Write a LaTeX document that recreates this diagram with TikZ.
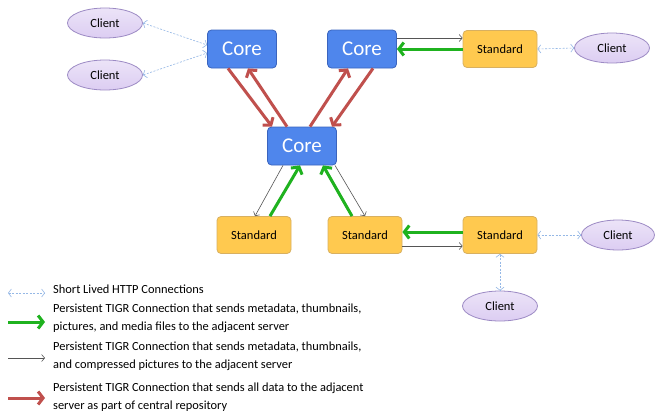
\documentclass[tikz,border=0pt]{standalone}
\usepackage{fontspec}
\setmainfont{Carlito}
\definecolor{tgcore}{HTML}{4F86EC}
\definecolor{tgcoreline}{HTML}{3A64BE}
\definecolor{tgstd}{HTML}{FFC94F}
\definecolor{tgstdline}{HTML}{D8B060}
\definecolor{tgclient}{HTML}{DCCDF2}
\definecolor{tgclientline}{HTML}{9C8AC4}
\definecolor{tgred}{HTML}{C0504D}
\definecolor{tggreen}{HTML}{1FB21F}
\definecolor{tggray}{HTML}{555555}
\definecolor{tghttp}{HTML}{95B8E6}
\usepackage{tikz}
\usetikzlibrary{arrows.meta, positioning, shapes.geometric}
\usepackage{xcolor}

\begin{document}
\begin{tikzpicture}[x=1pt, y=-1pt,
  core/.style={rounded corners=4pt, minimum width=69pt, minimum height=38pt,
               draw=tgcoreline, fill=tgcore, line width=0.8pt, text=white,
               font=\fontsize{21}{24}\selectfont, inner sep=0pt},
  std/.style={rounded corners=4pt, minimum width=74pt, minimum height=37pt,
              draw=tgstdline, fill=tgstd, line width=0.8pt,
              font=\fontsize{12.5}{14}\selectfont, inner sep=0pt},
  client/.style={ellipse, minimum width=75pt, minimum height=30pt,
                 draw=tgclientline, top color=tgclient!55, bottom color=tgclient,
                 line width=0.8pt, font=\fontsize{12.5}{14}\selectfont, inner sep=0pt},
  redarr/.style={draw=tgred, line width=3pt, -{Straight Barb[length=5pt,width=13pt]}},
  greenarr/.style={draw=tggreen, line width=3pt, -{Straight Barb[length=5pt,width=13pt]}},
  grayarr/.style={draw=tggray, line width=0.6pt, -{Straight Barb[length=3pt,width=7pt]}},
  httparr/.style={draw=tghttp, line width=0.6pt, dash pattern=on 2pt off 1.5pt,
                  {Straight Barb[length=3pt,width=8pt]}-{Straight Barb[length=3pt,width=8pt]}},
  legend/.style={anchor=west, align=left, inner sep=0pt,
                 font=\fontsize{12.4}{18}\selectfont},
]
  \useasboundingbox[fill=white] (0,0) rectangle (655,413);

  \node[client] (cl1) at (105,23) {Client};
  \node[client] (cl2) at (105,75) {Client};
  \node[core] (core1) at (242,49) {Core};
  \node[core] (core2) at (362,49) {Core};
  \node[std] (stdtop) at (500,49) {Standard};
  \node[client] (cl3) at (612,48) {Client};
  \node[core] (hub) at (302,146) {Core};
  \node[std] (stdl) at (254,235) {Standard};
  \node[std] (stdm) at (365,235) {Standard};
  \node[std] (stdr) at (500,235) {Standard};
  \node[client, minimum width=73pt] (cl4) at (618,235) {Client};
  \node[client] (cl5) at (500,306) {Client};

  \draw[httparr] (cl1.east) -- ([yshift=4pt]core1.west);
  \draw[httparr] (cl2.east) -- ([yshift=-4pt]core1.west);
  \draw[httparr] (stdtop.east) -- (cl3.west);
  \draw[httparr] (stdr.east) -- (cl4.west);
  \draw[httparr] (stdr.south) -- (cl5.north);

  \draw[redarr] ([xshift=-14pt]core1.south) -- ([xshift=-30pt]hub.north);
  \draw[redarr] ([xshift=-15pt]hub.north) -- ([xshift=6pt]core1.south);
  \draw[redarr] ([xshift=8pt]hub.north) -- ([xshift=-14pt]core2.south);
  \draw[redarr] ([xshift=11pt]core2.south) -- ([xshift=30pt]hub.north);

  \draw[grayarr] ([yshift=11pt]core2.east) -- ([yshift=11pt]stdtop.west);
  \draw[greenarr] (stdtop.west) -- (core2.east);

  \draw[grayarr] ([xshift=-19pt]hub.south) -- ([xshift=1pt]stdl.north);
  \draw[greenarr] ([xshift=16pt]stdl.north) -- ([xshift=-2pt]hub.south);
  \draw[greenarr] ([xshift=-13pt]stdm.north) -- ([xshift=21pt]hub.south);
  \draw[grayarr] ([xshift=33pt]hub.south) -- (stdm.north);

  \draw[greenarr] ([yshift=3pt]stdr.west) -- ([yshift=3pt]stdm.east);
  \draw[grayarr] ([yshift=-11pt]stdm.east) -- ([yshift=-11pt]stdr.west);

  \node[legend] (lg1) at (53,289) {Short Lived HTTP Connections};
  \node[legend] (lg2) at (53,318) {Persistent TIGR Connection that sends metadata, thumbnails,\\
    pictures, and media files to the adjacent server};
  \node[legend] (lg3) at (53,356) {Persistent TIGR Connection that sends metadata, thumbnails,\\
    and compressed pictures to the adjacent server};
  \node[legend] (lg4) at (53,397) {Persistent TIGR Connection that sends all data to the adjacent\\
    server as part of central repository};

  \draw[httparr] ([xshift=-45pt,yshift=-4pt]lg1.west) -- ([xshift=-8pt,yshift=-4pt]lg1.west);
  \draw[greenarr] ([xshift=-45pt,yshift=-4pt]lg2.west) -- ([xshift=-8pt,yshift=-4pt]lg2.west);
  \draw[grayarr] ([xshift=-45pt,yshift=-2pt]lg3.west) -- ([xshift=-8pt,yshift=-2pt]lg3.west);
  \draw[redarr] ([xshift=-45pt,yshift=-1pt]lg4.west) -- ([xshift=-8pt,yshift=-1pt]lg4.west);
\end{tikzpicture}
\end{document}
